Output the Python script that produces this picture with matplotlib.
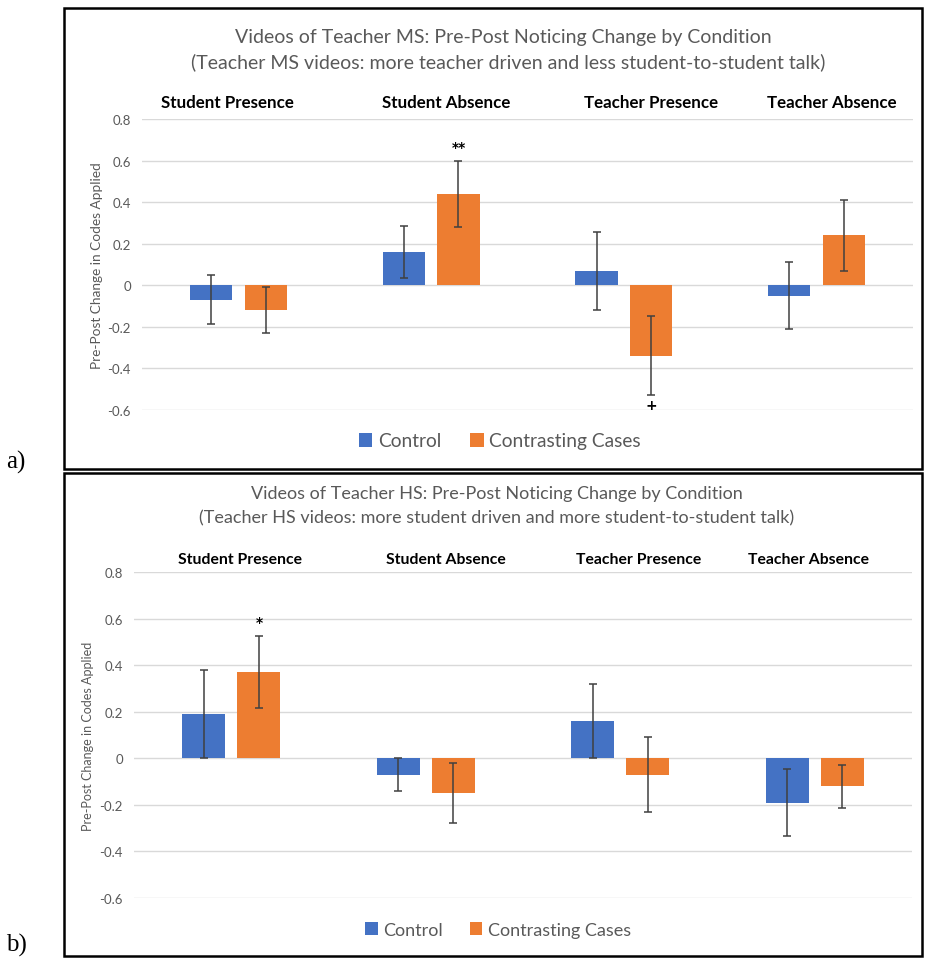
import numpy as np
import matplotlib
matplotlib.use("Agg")
import matplotlib.pyplot as plt
from matplotlib.patches import Rectangle

# categories and series
categories = ["Student Presence", "Student Absence", "Teacher Presence", "Teacher Absence"]
series_names = ["Control", "Contrasting Cases"]

# panel a: Teacher MS
ms_control = [-0.07, 0.16, 0.07, -0.05]
ms_control_err = [0.118, 0.125, 0.188, 0.16]
ms_cc = [-0.12, 0.44, -0.34, 0.24]
ms_cc_err = [0.11, 0.16, 0.19, 0.17]
ms_marks = ["", "**", "+", ""]

# panel b: Teacher HS
hs_control = [0.19, -0.07, 0.16, -0.19]
hs_control_err = [0.19, 0.07, 0.16, 0.145]
hs_cc = [0.37, -0.15, -0.07, -0.12]
hs_cc_err = [0.156, 0.13, 0.16, 0.093]
hs_marks = ["*", "", "", ""]

yticks = [-0.6, -0.4, -0.2, 0, 0.2, 0.4, 0.6, 0.8]
ytick_labels = ["-0.6", "-0.4", "-0.2", "0", "0.2", "0.4", "0.6", "0.8"]

BLUE = "#4472C4"
ORANGE = "#ED7D31"
GRID = "#D9D9D9"
TXT = "#595959"
FONT = "Lato"

W, H = 926, 962
fig = plt.figure(figsize=(W / 100, H / 100), dpi=100)


def rect(l, t, r, b):
    return [l / W, 1 - b / H, (r - l) / W, (b - t) / H]


def fx(x):
    return x / W


def fy(y):
    return 1 - y / H


def draw(box, ax_box, titles, title_x, title_ys, title_size, cat_xs, cat_y, cat_size,
         legend_x, legend_y, legend_size, ylab_x, ylab_size,
         control, control_err, cc, cc_err, marks, tag, tag_y):
    l, t, r, b = box
    fig.patches.append(Rectangle((fx(l), fy(b)), fx(r) - fx(l), fy(t) - fy(b),
                                 transform=fig.transFigure, fill=False,
                                 edgecolor="black", linewidth=1.8))
    for s, xx, yy in zip(titles, title_x, title_ys):
        fig.text(fx(xx), fy(yy), s, ha="center", va="center",
                 fontsize=title_size, color=TXT, family=FONT)
    ax = fig.add_axes(rect(*ax_box))
    x = np.arange(len(categories))
    w = 0.22
    off = 0.142
    b1 = ax.bar(x - off, control, w, color=BLUE, zorder=3, label=series_names[0])
    b2 = ax.bar(x + off, cc, w, color=ORANGE, zorder=3, label=series_names[1])
    ekw = dict(fmt="none", ecolor="#404040", elinewidth=1.1, capsize=3, capthick=1.1, zorder=4)
    ax.errorbar(x - off, control, yerr=control_err, **ekw)
    ax.errorbar(x + off, cc, yerr=cc_err, **ekw)
    for i, m in enumerate(marks):
        if not m:
            continue
        if cc[i] >= 0:
            ax.text(x[i] + off, cc[i] + cc_err[i] + 0.03, m, ha="center", va="bottom",
                    fontsize=10, fontweight="bold", color="black")
        else:
            ax.text(x[i] + off, cc[i] - cc_err[i] - 0.01, m, ha="center", va="top",
                    fontsize=10, fontweight="bold", color="black")
    ax.set_xlim(-0.5, len(categories) - 0.5)
    ax.set_ylim(-0.6, 0.8)
    ax.set_yticks(yticks)
    ax.set_yticklabels(ytick_labels, fontsize=9.5, color=TXT, family=FONT)
    ax.set_xticks([])
    ax.tick_params(axis="y", length=0, pad=8)
    for s in ax.spines.values():
        s.set_visible(False)
    ax.grid(axis="y", color=GRID, linewidth=1.0, zorder=0)
    ax.set_axisbelow(True)
    # category headers sit in their own text boxes above the plot
    for c, xx in zip(categories, cat_xs):
        fig.text(fx(xx), fy(cat_y), c, ha="center", va="center",
                 fontsize=cat_size, fontweight="bold", color="black", family=FONT)
    fig.text(fx(ylab_x), fy((ax_box[1] + ax_box[3]) / 2), "Pre-Post Change in Codes Applied",
             rotation=90, ha="center", va="center", fontsize=ylab_size, color=TXT, family=FONT)
    leg = ax.legend(handles=[b1, b2], loc="center", bbox_to_anchor=(fx(legend_x), fy(legend_y)),
                    bbox_transform=fig.transFigure, ncol=2,
                    frameon=False, prop={"family": FONT, "size": legend_size},
                    handlelength=0.7, handleheight=0.7, handletextpad=0.3, columnspacing=1.5)
    for txt in leg.get_texts():
        txt.set_color(TXT)
    fig.text(fx(6), fy(tag_y), tag, ha="left", va="center", fontsize=18, family="Liberation Serif")
    return ax


draw((64, 9, 922, 470), (142, 120, 913, 411),
     ["Videos of Teacher MS: Pre-Post Noticing Change by Condition",
      "(Teacher MS videos: more teacher driven and less student-to-student talk)"],
     [503, 508], [38, 62], 14, [227, 446, 651, 832], 103, 12.2,
     500, 442, 13.8, 97, 9.8,
     ms_control, ms_control_err, ms_cc, ms_cc_err, ms_marks, "a)", 462)

draw((64, 474, 922, 957), (134, 573, 912, 899),
     ["Videos of Teacher HS: Pre-Post Noticing Change by Condition",
      "(Teacher HS videos: more student driven and more student-to-student talk)"],
     [497, 497], [494, 518], 13, [240, 446, 639, 809], 560, 11.3,
     498, 931, 13, 88, 9,
     hs_control, hs_control_err, hs_cc, hs_cc_err, hs_marks, "b)", 945)

fig.savefig("out.png", dpi=100)
